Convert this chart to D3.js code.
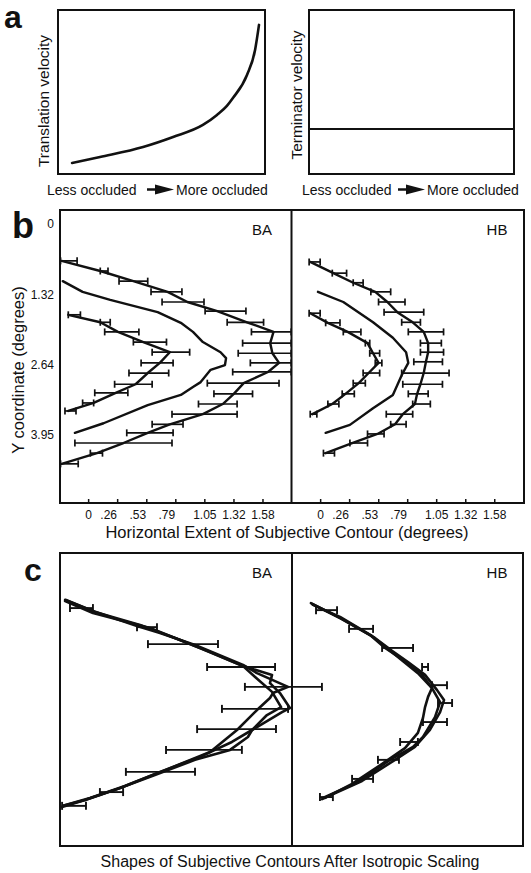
<!DOCTYPE html>
<html>
<head>
<meta charset="utf-8">
<script src="https://cdn.jsdelivr.net/npm/d3@7"></script>
<style>
  body { margin: 0; background: #fff; }
  svg text { font-family: "Liberation Sans", Arial, Helvetica, sans-serif; fill: #111; }
</style>
</head>
<body>
<svg id="chart" width="531" height="873"></svg>
<script>
// ---------- panel a (schematic, unitless 0..1) ----------
const occlusion     = [0.068, 0.203, 0.411, 0.556, 0.700, 0.768, 0.816, 0.845, 0.913, 0.952, 0.971];
const translationV  = [0.067, 0.104, 0.165, 0.226, 0.299, 0.360, 0.415, 0.463, 0.604, 0.756, 0.909];
const terminatorX   = [0, 1];
const terminatorV   = [0.275, 0.275];

// ---------- panel b (degrees) ----------
const yTicks      = [0, 1.32, 2.64, 3.95];
const yTickLabels = ["0", "1.32", "2.64", "3.95"];
const xTicks      = [0, 0.263, 0.527, 0.79, 1.053, 1.317, 1.58];
const xTickLabels = ["0", ".26", ".53", ".79", "1.05", "1.32", "1.58"];

// BA outer contour (mean + error bar extent)
const baOuterY  = [0.69, 0.88, 1.07, 1.27, 1.46, 1.63, 1.84, 2.02, 2.23, 2.42, 2.60, 2.77, 2.98, 3.18, 3.37, 3.56, 3.75, 3.91, 4.10, 4.29, 4.49];
const baOuterX  = [-0.24, 0.11, 0.41, 0.72, 0.90, 1.17, 1.44, 1.68, 1.65, 1.67, 1.73, 1.63, 1.41, 1.32, 1.22, 1.04, 0.74, 0.54, 0.32, 0.08, -0.24];
const baOuterLo = [-0.25, 0.11, 0.28, 0.57, 0.67, 1.06, 1.26, 1.48, 1.40, 1.36, 1.47, 1.31, 1.08, 1.14, 1.00, 0.76, 0.58, 0.35, -0.12, 0.02, -0.25];
const baOuterHi = [-0.10, 0.18, 0.54, 0.85, 1.05, 1.43, 1.59, 1.84, 1.84, 1.84, 1.84, 1.84, 1.73, 1.49, 1.35, 1.35, 0.86, 0.77, 0.76, 0.13, -0.09];
// BA inner contour
const baInnerY  = [1.70, 1.84, 2.02, 2.21, 2.40, 2.60, 2.79, 3.00, 3.16, 3.35, 3.50];
const baInnerX  = [-0.18, 0.11, 0.27, 0.50, 0.74, 0.65, 0.54, 0.43, 0.25, 0.05, -0.18];
const baInnerLo = [-0.18, 0.11, 0.15, 0.41, 0.58, 0.48, 0.37, 0.24, 0.06, -0.05, -0.21];
const baInnerHi = [-0.07, 0.20, 0.46, 0.71, 0.92, 0.77, 0.73, 0.58, 0.36, 0.05, -0.11];
// BA middle (physical) contour
const baMidY = [1.07, 1.27, 1.42, 1.65, 1.85, 2.02, 2.21, 2.40, 2.51, 2.64, 2.73, 2.96, 3.05, 3.20, 3.39, 3.73, 3.91];
const baMidX = [-0.23, -0.05, 0.20, 0.63, 0.84, 0.95, 1.04, 1.20, 1.25, 1.24, 1.11, 1.02, 0.95, 0.84, 0.54, 0.14, -0.12];

// HB outer contour
const hbOuterY  = [0.71, 0.92, 1.10, 1.27, 1.46, 1.65, 1.84, 2.02, 2.23, 2.40, 2.58, 2.79, 3.00, 3.18, 3.37, 3.56, 3.75, 3.93, 4.10, 4.29];
const hbOuterX  = [-0.09, 0.12, 0.30, 0.50, 0.61, 0.70, 0.84, 0.94, 0.98, 0.98, 0.96, 0.94, 0.91, 0.88, 0.86, 0.75, 0.68, 0.52, 0.29, 0.05];
const hbOuterLo = [-0.10, 0.11, 0.30, 0.46, 0.53, 0.58, 0.74, 0.80, 0.91, 0.91, 0.85, 0.74, 0.75, 0.80, 0.84, 0.60, 0.64, 0.43, 0.27, 0.03];
const hbOuterHi = [0.00, 0.24, 0.39, 0.64, 0.77, 0.94, 0.91, 1.12, 1.10, 1.12, 1.11, 1.17, 1.11, 0.98, 1.00, 0.84, 0.78, 0.58, 0.43, 0.13];
// HB inner contour
const hbInnerY  = [1.67, 1.85, 2.02, 2.23, 2.42, 2.60, 2.79, 2.98, 3.18, 3.37, 3.56];
const hbInnerX  = [-0.09, 0.07, 0.25, 0.43, 0.48, 0.53, 0.44, 0.35, 0.23, 0.11, -0.07];
const hbInnerLo = [-0.10, 0.05, 0.21, 0.41, 0.45, 0.50, 0.39, 0.30, 0.20, 0.07, -0.09];
const hbInnerHi = [0.00, 0.18, 0.37, 0.45, 0.54, 0.56, 0.54, 0.41, 0.31, 0.17, -0.03];
// HB middle contour
const hbMidY = [1.27, 1.46, 1.84, 2.13, 2.40, 2.60, 2.83, 3.20, 3.45, 3.76, 3.91];
const hbMidX = [-0.02, 0.21, 0.48, 0.66, 0.78, 0.80, 0.74, 0.66, 0.48, 0.27, 0.05];

// ---------- panel c (scaled shapes, % of panel) ----------
const cBaAX = [2.2, 14.2, 33.2, 43.1, 58.2, 78.9, 84.9, 98.3, 91.8, 90.5, 84.9, 76.3, 64.7, 45.3, 28.0, 12.9, 1.3];
const cBaAY = [16.0, 19.8, 24.9, 27.3, 31.4, 38.2, 41.0, 45.7, 47.8, 49.5, 53.6, 60.4, 67.9, 74.1, 79.5, 83.6, 86.3];
const cBaBX = [2.2, 14.2, 38.8, 47.4, 60.3, 78.9, 91.4, 90.5, 94.8, 99.1, 95.7, 84.9, 74.1, 60.3, 43.1, 25.9, 10.8, 0.9];
const cBaBY = [16.4, 20.5, 25.6, 28.3, 32.4, 38.6, 41.6, 44.4, 47.8, 52.9, 54.3, 59.4, 64.5, 69.6, 74.7, 80.2, 84.3, 86.7];
const cBaCX = [2.6, 15.1, 34.5, 49.6, 64.7, 78.9, 84.1, 91.4, 93.5, 95.3, 89.2, 82.8, 81.0, 73.3, 58.2, 40.9, 25.0, 10.8, 1.3];
const cBaCY = [16.0, 20.1, 24.6, 29.0, 33.8, 38.6, 42.3, 47.4, 50.2, 52.6, 55.3, 60.4, 62.8, 67.2, 70.6, 75.8, 80.5, 84.3, 86.3];
const cBaBarY  = [18.8, 25.3, 31.1, 38.9, 45.7, 53.2, 60.1, 67.2, 74.7, 81.6, 86.3];
const cBaBarLo = [4.3, 33.2, 37.9, 63.4, 79.7, 69.8, 59.1, 45.7, 28.4, 17.2, 0.9];
const cBaBarHi = [14.2, 41.8, 68.1, 92.7, 112.9, 98.3, 93.1, 78.4, 58.2, 27.2, 11.2];

const cHbAX = [8.7, 20.8, 33.8, 40.3, 48.1, 55.4, 60.6, 64.1, 61.9, 56.7, 52.4, 42.4, 28.6, 13.4];
const cHbAY = [17.4, 22.2, 28.0, 32.4, 36.5, 40.6, 46.1, 50.9, 56.0, 62.8, 66.2, 70.6, 78.2, 83.6];
const cHbBX = [9.1, 20.8, 34.6, 41.6, 48.1, 54.5, 60.6, 58.9, 57.6, 56.7, 54.5, 48.9, 40.3, 26.0, 14.3];
const cHbBY = [17.7, 21.8, 28.3, 32.8, 36.9, 41.0, 46.1, 49.1, 52.6, 56.3, 61.4, 66.6, 71.3, 78.8, 83.6];
const cHbCX = [8.2, 21.6, 35.9, 43.3, 50.2, 57.6, 62.8, 65.8, 64.1, 59.7, 53.2, 44.6, 30.3, 13.0];
const cHbCY = [17.1, 22.5, 29.0, 33.4, 37.2, 41.6, 46.8, 50.2, 54.3, 60.4, 66.2, 70.6, 77.8, 84.0];
const cHbBarY  = [19.5, 25.9, 32.4, 38.9, 45.1, 51.2, 57.7, 64.5, 70.6, 77.1, 83.3];
const cHbBarLo = [10.4, 24.7, 39.0, 56.3, 60.6, 63.2, 56.7, 46.8, 37.2, 26.0, 12.1];
const cHbBarHi = [19.5, 35.1, 52.4, 58.9, 67.1, 69.3, 67.1, 54.5, 46.3, 35.1, 17.7];

// ---------- drawing ----------
const ink = "#111";
const svg = d3.select("#chart");

function zip(xs, ys) { return xs.map((x, i) => [x, ys[i]]); }

function frame(x0, y0, x1, y1, w) {
  svg.append("rect")
    .attr("x", x0).attr("y", y0)
    .attr("width", x1 - x0).attr("height", y1 - y0)
    .attr("fill", "none").attr("stroke", ink).attr("stroke-width", w);
}

function vline(x, y0, y1, w) {
  svg.append("line").attr("x1", x).attr("x2", x).attr("y1", y0).attr("y2", y1)
    .attr("stroke", ink).attr("stroke-width", w);
}

function curve(xs, ys, sx, sy, w, kind) {
  svg.append("path")
    .datum(zip(xs, ys))
    .attr("d", d3.line().x(d => sx(d[0])).y(d => sy(d[1])).curve(kind || d3.curveLinear))
    .attr("fill", "none")
    .attr("stroke", ink)
    .attr("stroke-width", w)
    .attr("stroke-linejoin", "round")
    .attr("stroke-linecap", "round");
}

function errorBars(ys, lo, hi, sx, sy, cap, w) {
  const rows = ys.map((y, i) => ({ y: y, lo: lo[i], hi: hi[i] }));
  const g = svg.append("g").attr("stroke", ink).attr("stroke-width", w || 1.7);
  g.selectAll("line.bar").data(rows).join("line").attr("class", "bar")
    .attr("x1", d => sx(d.lo)).attr("x2", d => sx(d.hi))
    .attr("y1", d => sy(d.y)).attr("y2", d => sy(d.y));
  g.selectAll("line.lo").data(rows).join("line").attr("class", "lo")
    .attr("x1", d => sx(d.lo)).attr("x2", d => sx(d.lo))
    .attr("y1", d => sy(d.y) - cap).attr("y2", d => sy(d.y) + cap);
  g.selectAll("line.hi").data(rows).join("line").attr("class", "hi")
    .attr("x1", d => sx(d.hi)).attr("x2", d => sx(d.hi))
    .attr("y1", d => sy(d.y) - cap).attr("y2", d => sy(d.y) + cap);
}

function label(txt, x, y, size, opts) {
  opts = opts || {};
  const t = svg.append("text").attr("x", x).attr("y", y)
    .attr("font-size", size)
    .attr("text-anchor", opts.anchor || "start")
    .text(txt);
  if (opts.bold) t.attr("font-weight", "bold");
  if (opts.rotate) t.attr("transform", `rotate(-90,${x},${y})`);
  return t;
}

// little "-▶" arrow between the occlusion labels
function arrow(x0, y) {
  svg.append("line").attr("x1", x0).attr("x2", x0 + 11).attr("y1", y).attr("y2", y)
    .attr("stroke", ink).attr("stroke-width", 2.5);
  svg.append("path")
    .attr("d", `M${x0 + 8},${y - 5}L${x0 + 27},${y}L${x0 + 8},${y + 5}Z`)
    .attr("fill", ink);
}

// ----- panel a -----
const xa1 = d3.scaleLinear().domain([0, 1]).range([58, 265]);
const xa2 = d3.scaleLinear().domain([0, 1]).range([309, 514]);
const ya  = d3.scaleLinear().domain([0, 1]).range([174, 10]);

frame(58, 10, 265, 174, 2);
frame(309, 10, 514, 174, 2);
curve(occlusion, translationV, xa1, ya, 2.6, d3.curveMonotoneX);
curve(terminatorX, terminatorV, xa2, ya, 2, d3.curveLinear);

label("a", 4, 28, 32, { bold: true });
label("Translation velocity", 49, 101, 15.5, { anchor: "middle", rotate: true });
label("Terminator velocity", 302, 95, 15.5, { anchor: "middle", rotate: true });
label("Less occluded", 47, 195, 14);
arrow(147, 189.5);
label("More occluded", 176, 195, 14);
label("Less occluded", 302, 195, 14);
arrow(398, 189.5);
label("More occluded", 427, 195, 14);

// ----- panel b -----
const bTop = 210, bBottom = 503, bLeft = 60, bMid = 291.5, bRight = 524;
const xBA = d3.scaleLinear().domain([-0.255, 1.843]).range([bLeft, bMid]);
const xHB = d3.scaleLinear().domain([-0.26, 1.85]).range([bMid, bRight]);
const yB  = d3.scaleLinear().domain([0, 3.95]).range([224, 435]);

frame(bLeft, bTop, bRight, bBottom, 2);
vline(bMid, bTop, bBottom, 2);

[xBA, xHB].forEach(sx => {
  svg.append("g")
    .attr("transform", `translate(0,${bBottom})`)
    .call(d3.axisBottom(sx).tickValues(xTicks)
      .tickFormat((d, i) => xTickLabels[i])
      .tickSizeInner(-4).tickSizeOuter(0).tickPadding(7))
    .call(g => g.select(".domain").remove())
    .call(g => g.selectAll("line").attr("stroke", ink).attr("stroke-width", 1.5))
    .call(g => g.selectAll("text")
      .attr("font-family", "Liberation Sans, Arial, sans-serif")
      .attr("font-size", 12)
      .attr("dx", (d, i) => xTickLabels[i].startsWith(".") ? -9 : 0));
});

svg.append("g")
  .attr("transform", `translate(${bLeft},0)`)
  .call(d3.axisLeft(yB).tickValues(yTicks)
    .tickFormat((d, i) => yTickLabels[i])
    .tickSize(0).tickPadding(6))
  .call(g => g.select(".domain").remove())
  .call(g => g.selectAll("text")
    .attr("font-family", "Liberation Sans, Arial, sans-serif")
    .attr("font-size", 12));

errorBars(baOuterY, baOuterLo, baOuterHi, xBA, yB, 3.5);
errorBars(baInnerY, baInnerLo, baInnerHi, xBA, yB, 3.5);
curve(baOuterX, baOuterY, xBA, yB, 2.4);
curve(baInnerX, baInnerY, xBA, yB, 2.4);
curve(baMidX, baMidY, xBA, yB, 2.4);

errorBars(hbOuterY, hbOuterLo, hbOuterHi, xHB, yB, 3.5);
errorBars(hbInnerY, hbInnerLo, hbInnerHi, xHB, yB, 3.5);
curve(hbOuterX, hbOuterY, xHB, yB, 2.4);
curve(hbInnerX, hbInnerY, xHB, yB, 2.4);
curve(hbMidX, hbMidY, xHB, yB, 2.4);

label("b", 12, 238, 36, { bold: true });
label("BA", 262, 235, 15, { anchor: "middle" });
label("HB", 497, 235, 15, { anchor: "middle" });
label("Y coordinate (degrees)", 24, 370, 16.5, { anchor: "middle", rotate: true });
label("Horizontal Extent of Subjective Contour (degrees)", 287, 538, 16.5, { anchor: "middle" });

// ----- panel c -----
const cTop = 553, cBottom = 846, cLeft = 60, cMid = 292, cRight = 523;
const xcBA = d3.scaleLinear().domain([0, 100]).range([cLeft, cMid]);
const xcHB = d3.scaleLinear().domain([0, 100]).range([cMid, cRight]);
const yc   = d3.scaleLinear().domain([0, 100]).range([cTop, cBottom]);

frame(cLeft, cTop, cRight, cBottom, 2);
vline(cMid, cTop, cBottom, 2);

errorBars(cBaBarY, cBaBarLo, cBaBarHi, xcBA, yc, 4, 1.9);
curve(cBaAX, cBaAY, xcBA, yc, 2.6);
curve(cBaBX, cBaBY, xcBA, yc, 2.6);
curve(cBaCX, cBaCY, xcBA, yc, 2.6);

errorBars(cHbBarY, cHbBarLo, cHbBarHi, xcHB, yc, 4, 1.9);
curve(cHbAX, cHbAY, xcHB, yc, 2.6);
curve(cHbBX, cHbBY, xcHB, yc, 2.6);
curve(cHbCX, cHbCY, xcHB, yc, 2.6);

label("c", 24, 581, 32, { bold: true });
label("BA", 262, 578, 15, { anchor: "middle" });
label("HB", 497, 578, 15, { anchor: "middle" });
label("Shapes of Subjective Contours After Isotropic Scaling", 290, 867, 16, { anchor: "middle" });
</script>
</body>
</html>
